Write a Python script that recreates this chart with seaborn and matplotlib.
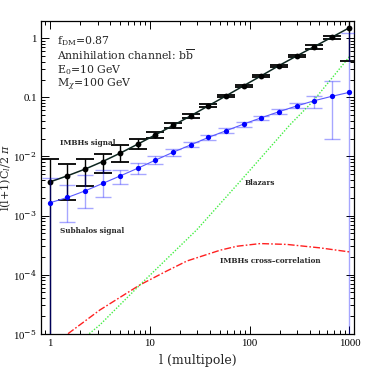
import numpy as np
import pandas as pd
import matplotlib
matplotlib.use("Agg")
import matplotlib.pyplot as plt
import seaborn as sns

# ---------------- data ----------------
ell = [1.0, 1.50, 2.25, 3.38, 5.08, 7.62, 11.4, 17.2, 25.8, 38.7,
       58.1, 87.2, 131, 196, 295, 443, 665, 1000]

imbh_val = [3.7e-3, 4.7e-3, 6.1e-3, 8.2e-3, 0.0114, 0.0162, 0.0232, 0.0335, 0.0488,
            0.072, 0.106, 0.157, 0.232, 0.343, 0.50, 0.72, 1.04, 1.51]
imbh_hi = [9.0e-3, 7.4e-3, 9.0e-3, 0.01115, 0.01556, 0.0194, 0.0261, 0.0371, 0.0521,
           0.076, 0.111, 0.164, 0.242, 0.357, 0.52, 0.77, 1.11, 2.6]
imbh_lo = [-1.0, 1.8e-3, 3.14e-3, 5.15e-3, 8.17e-3, 0.01314, 0.0207, 0.0298, 0.0451,
           0.068, 0.101, 0.150, 0.222, 0.329, 0.48, 0.67, 0.97, 0.41]

sub_val = [1.64e-3, 2.02e-3, 2.61e-3, 3.49e-3, 4.69e-3, 6.33e-3, 8.65e-3, 0.0118, 0.0157,
           0.021, 0.0272, 0.0353, 0.0451, 0.057, 0.0713, 0.0876, 0.104, 0.1216]
sub_hi = [4.3e-3, 3.26e-3, 4.82e-3, 5.86e-3, 5.86e-3, 7.6e-3, 0.0101, 0.01345, 0.01769,
          0.02296, 0.02985, 0.0381, 0.0488, 0.0626, 0.081, 0.1064, 0.1867, 1.216]
sub_lo = [-1.0, 7.8e-4, 1.345e-3, 2.07e-3, 3.35e-3, 5.0e-3, 7.4e-3, 0.0101, 0.01422,
          0.01889, 0.0251, 0.0318, 0.0412, 0.0521, 0.0651, 0.0651, 0.0194, -1.0]

cross_l = [1.52, 3.17, 7.98, 14.8, 23.6, 50.8, 74.8, 128, 237, 511, 1000]
cross_v = [1.0e-5, 2.52e-5, 6.7e-5, 1.15e-4, 1.7e-4, 2.59e-4, 3.02e-4, 3.35e-4, 3.24e-4, 2.83e-4, 2.42e-4]

blaz_l = [2.48, 3.17, 7.98, 29.5, 74.8, 254, 434, 1000]
blaz_v = [1.0e-5, 1.41e-5, 6.7e-5, 5.7e-4, 3.3e-3, 0.0344, 0.0868, 0.489]

yticks = [1e-5, 1e-4, 1e-3, 1e-2, 0.1, 1]
ytick_labels = [r"10$^{-5}$", r"10$^{-4}$", r"10$^{-3}$", r"10$^{-2}$", "0.1", "1"]
xticks = [1, 10, 100, 1000]
xtick_labels = ["1", "10", "100", "1000"]

# ---------------- style ----------------
sns.set_theme(style="ticks")
plt.rcParams["font.family"] = ["DejaVu Serif"]
plt.rcParams["mathtext.fontset"] = "dejavuserif"

fig = plt.figure(figsize=(3.74, 3.74), dpi=100)
ax = fig.add_axes([0.1096, 0.1078, 0.8369, 0.8361])

ell_a = np.array(ell)
iv = np.array(imbh_val)
sv = np.array(sub_val)
i_err = np.vstack([iv - np.array(imbh_lo), np.array(imbh_hi) - iv])
s_err = np.vstack([sv - np.array(sub_lo), np.array(sub_hi) - sv])

ax.set_xscale("log")
ax.set_yscale("log")

# IMBH signal (black)
ax.errorbar(ell_a, iv, yerr=i_err, fmt="none", ecolor="black", elinewidth=1.0,
            capsize=6.5, capthick=1.3, zorder=3)
df_i = pd.DataFrame({"l": ell, "v": imbh_val})
sns.lineplot(data=df_i, x="l", y="v", ax=ax, color="#0d2620", lw=1.1,
             marker="o", markersize=4.2, markeredgewidth=0, markerfacecolor="black",
             estimator=None, sort=False, zorder=4)

# Subhalos signal (blue)
ax.errorbar(ell_a, sv, yerr=s_err, fmt="none", ecolor=(0, 0, 1, 0.35), elinewidth=1.0,
            capsize=6, capthick=1.0, zorder=5)
df_s = pd.DataFrame({"l": ell, "v": sub_val})
sns.lineplot(data=df_s, x="l", y="v", ax=ax, color=(0.35, 0.35, 1.0), lw=0.8,
             marker="o", markersize=3.8, markeredgewidth=0, markerfacecolor="blue",
             estimator=None, sort=False, zorder=6)

# cross-correlation (red dash-dot)
df_c = pd.DataFrame({"l": cross_l, "v": cross_v})
sns.lineplot(data=df_c, x="l", y="v", ax=ax, color="#ff2020", lw=1.0,
             dashes=False, estimator=None, sort=False, zorder=2)
ax.lines[-1].set_dashes([5, 1.5, 1.2, 1.5])

# blazars (green dotted)
df_b = pd.DataFrame({"l": blaz_l, "v": blaz_v})
sns.lineplot(data=df_b, x="l", y="v", ax=ax, color="#44ee44", lw=1.0,
             estimator=None, sort=False, zorder=2)
ax.lines[-1].set_dashes([1.0, 1.2])

ax.set_xlim(0.815, 1110)
ax.set_ylim(1e-5, 1.96)

ax.set_xticks(xticks)
ax.set_xticklabels(xtick_labels)
ax.set_yticks(yticks)
ax.set_yticklabels(ytick_labels)
ax.tick_params(which="both", direction="in", top=True, right=True,
               colors="black", width=0.7)
for lab in ax.get_xticklabels() + ax.get_yticklabels():
    lab.set_family(["Liberation Serif"])
    lab.set_fontsize(7.8)
ax.tick_params(axis="y", pad=3)
ax.tick_params(axis="x", pad=4)
ax.tick_params(which="major", length=6)
ax.tick_params(which="minor", length=3)
for s in ax.spines.values():
    s.set_color("black")
    s.set_linewidth(0.9)

ax.set_xlabel("l (multipole)", fontsize=9, labelpad=4)
ax.set_ylabel(r"l(l+1)C$_l$/2 $\pi$", fontsize=8)
ax.yaxis.set_label_coords(-0.088, 0.5)

# annotations
tk = dict(transform=ax.transAxes, fontsize=7.8, ha="left", va="center")
ax.text(0.052, 0.937, r"f$_{\rm DM}$=0.87", **tk)
ax.text(0.052, 0.893, r"Annihilation channel: b$\overline{\rm b}$", **tk)
ax.text(0.052, 0.844, r"E$_0$=10 GeV", **tk)
ax.text(0.052, 0.797, r"M$_\chi$=100 GeV", **tk)

sk = dict(fontsize=5.2, ha="left", va="center", fontweight="bold")
ax.text(1.26, 1.67e-2, "IMBHs signal", **sk)
ax.text(1.26, 5.4e-4, "Subhalos signal", **sk)
ax.text(90, 3.6e-3, "Blazars", **sk)
ax.text(50, 1.72e-4, "IMBHs cross\u2013correlation", **sk)

fig.savefig("out.png", dpi=100)
